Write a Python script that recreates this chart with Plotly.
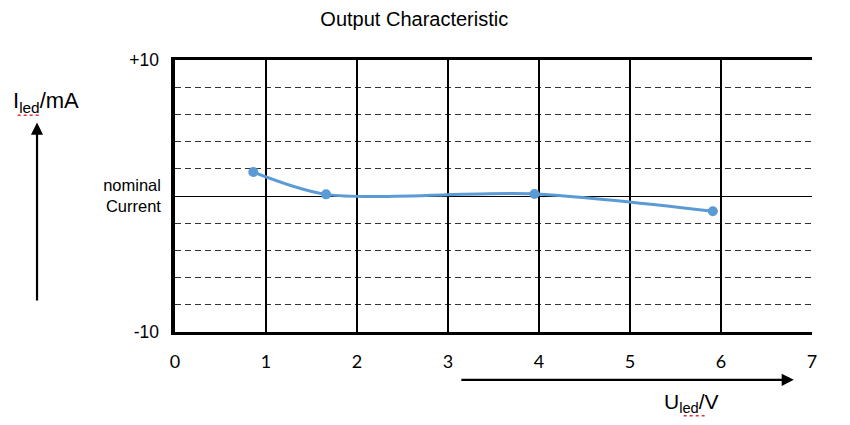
import plotly.graph_objects as go

# Data
u_led = [0.86, 1.66, 3.95, 5.91]
i_led = [1.76, 0.12, 0.15, -1.12]

x_ticks = [0, 1, 2, 3, 4, 5, 6, 7]
y_nominal_val = [0]
y_nominal_text = ["nominal<br>Current"]
y_limit_vals = [-10, 10]
y_limit_text = ["-10", "+10"]

FONT = "Liberation Sans, Arial, sans-serif"

fig = go.Figure()
fig.add_trace(go.Scatter(
    x=u_led, y=i_led, mode="lines+markers",
    line=dict(color="#5B9BD5", width=3, shape="spline", smoothing=0.8),
    marker=dict(color="#5B9BD5", size=10),
    showlegend=False, cliponaxis=False,
))
# invisible trace to activate the secondary y axis (limit labels)
fig.add_trace(go.Scatter(x=[None], y=[None], yaxis="y2", showlegend=False, hoverinfo="skip"))

fig.update_layout(
    width=850, height=425,
    margin=dict(l=167, r=46, t=52, b=101),
    paper_bgcolor="white", plot_bgcolor="white",
    font=dict(family=FONT, size=17, color="black"),
    title=dict(text="Output Characteristic", xref="container", x=0.478, xanchor="center",
               yref="container", y=0.975, yanchor="middle",
               font=dict(family=FONT, size=20, color="black")),
    xaxis=dict(
        range=[0, 7], tickvals=x_ticks, ticktext=[str(v) for v in x_ticks],
        showgrid=True, gridcolor="black", gridwidth=2,
        zeroline=False, showline=True, linecolor="black", linewidth=2.5, mirror=True,
        ticks="", ticklabelstandoff=12, tickfont=dict(family="Lato, Liberation Sans, sans-serif", size=18),
    ),
    yaxis=dict(
        range=[-10, 10], tickvals=y_nominal_val, ticktext=y_nominal_text,
        showgrid=True, gridcolor="black", gridwidth=1.3,
        zeroline=True, zerolinecolor="black", zerolinewidth=1.3,
        showline=True, linecolor="black", linewidth=3.5,
        ticks="", ticklabelstandoff=7, tickfont=dict(size=16.5),
        minor=dict(dtick=2, tick0=0, showgrid=True, gridcolor="#333333", gridwidth=1.2,
                   griddash="6px,4px"),
    ),
    yaxis2=dict(
        range=[-10, 10], overlaying="y", side="left", anchor="x",
        tickvals=y_limit_vals, ticktext=y_limit_text,
        showgrid=False, zeroline=False, showline=False,
        ticks="", ticklabelstandoff=15, tickfont=dict(size=17.5),
    ),
)

# Axis arrows and labels
fig.add_annotation(xref="x domain", yref="y domain", x=-0.2166, y=0.77, ax=-0.2166, ay=0.11,
                   axref="x domain", ayref="y domain", showarrow=True, arrowhead=2, arrowsize=1.1,
                   arrowwidth=2.2, arrowcolor="black", text="")
fig.add_annotation(xref="x domain", yref="y domain", x=-0.202, y=0.845, showarrow=False,
                   text="I<sub>led</sub>/mA", font=dict(size=22), xanchor="center", yanchor="middle")
fig.add_annotation(xref="x", yref="y domain", x=6.8, y=-0.176, ax=3.13, ay=-0.176,
                   axref="x", ayref="y domain", showarrow=True, arrowhead=2, arrowsize=1.1,
                   arrowwidth=2.2, arrowcolor="black", text="")
fig.add_annotation(xref="x", yref="y domain", x=5.68, y=-0.26, showarrow=False,
                   text="U<sub>led</sub>/V", font=dict(size=21), xanchor="center", yanchor="middle")

# red spell-check squiggles under "led"
fig.add_shape(type="line", xref="x domain", yref="y domain", x0=-0.247, x1=-0.214, y0=0.797, y1=0.797,
              line=dict(color="#E03030", width=1.5, dash="dot"))
fig.add_shape(type="line", xref="x", yref="y domain", x0=5.59, x1=5.82, y0=-0.308, y1=-0.308,
              line=dict(color="#E03030", width=1.5, dash="dot"))

fig.write_html("out.html")
